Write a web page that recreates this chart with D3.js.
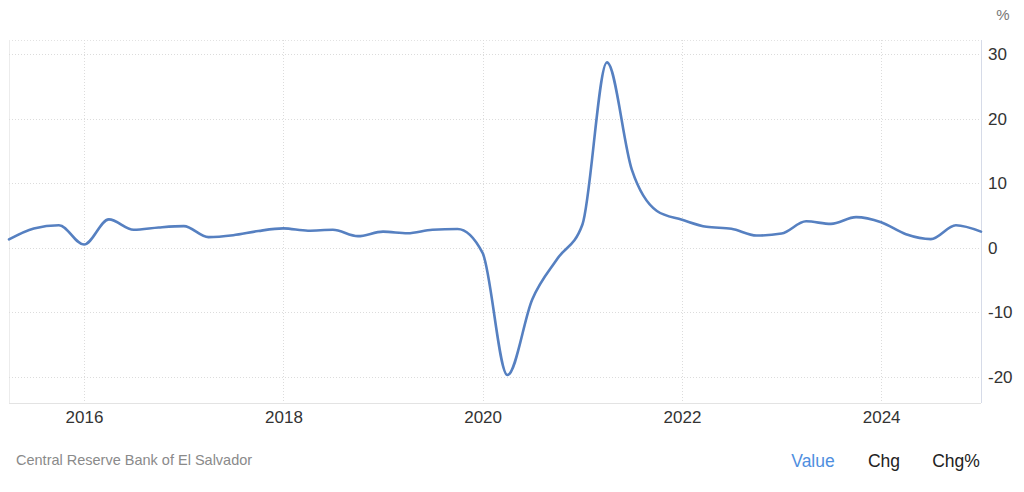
<!DOCTYPE html>
<html>
<head>
<meta charset="utf-8">
<script src="https://cdn.jsdelivr.net/npm/d3@7"></script>
<style>
  html, body { margin: 0; padding: 0; background: #fff; }
  svg { display: block; font-family: "Liberation Sans", Arial, Helvetica, sans-serif; }
</style>
</head>
<body>
<svg id="chart" width="1024" height="492"></svg>
<script>
// Quarterly GDP annual growth rate, El Salvador (quarter-start dates)
const dates = [
  "2015-04-01","2015-07-01","2015-10-01",
  "2016-01-01","2016-04-01","2016-07-01","2016-10-01",
  "2017-01-01","2017-04-01","2017-07-01","2017-10-01",
  "2018-01-01","2018-04-01","2018-07-01","2018-10-01",
  "2019-01-01","2019-04-01","2019-07-01","2019-10-01",
  "2020-01-01","2020-04-01","2020-07-01","2020-10-01",
  "2021-01-01","2021-04-01","2021-07-01","2021-10-01",
  "2022-01-01","2022-04-01","2022-07-01","2022-10-01",
  "2023-01-01","2023-04-01","2023-07-01","2023-10-01",
  "2024-01-01","2024-04-01","2024-07-01","2024-10-01",
  "2025-01-01"
];
const values = [
  1.3, 3.0, 3.5,
  0.5, 4.4, 2.8, 3.15,
  3.35, 1.65, 1.95, 2.6,
  3.0, 2.65, 2.8, 1.8,
  2.5, 2.25, 2.8, 2.9,
  -0.8, -19.7, -8.0, -1.7,
  3.6, 28.7, 12.1, 5.7,
  4.35, 3.25, 2.95, 1.9,
  2.2, 4.1, 3.7, 4.75,
  3.95, 2.1, 1.35, 3.5,
  2.5
];
const yTicks = [-20, -10, 0, 10, 20, 30];
const xTickYears = [2016, 2018, 2020, 2022, 2024];
const sourceText = "Central Reserve Bank of El Salvador";
const legendItems = ["Value", "Chg", "Chg%"];
const unitLabel = "%";

const parse = d3.timeParse("%Y-%m-%d");
const data = dates.map((d, i) => ({ date: parse(d), value: values[i] }));

const svg = d3.select("#chart");
const plotLeft = 9, plotRight = 981, plotTop = 40, plotBottom = 403;

const x = d3.scaleTime()
  .domain(d3.extent(data, d => d.date))
  .range([plotLeft, plotRight]);
const y = d3.scaleLinear()
  .domain([-20, 30])
  .range([377, 54]);

// plot frame (light)
svg.append("line")
  .attr("x1", plotLeft).attr("x2", plotRight)
  .attr("y1", plotTop + 0.5).attr("y2", plotTop + 0.5)
  .attr("stroke", "#e2e2e2").attr("stroke-dasharray", "1,2");
svg.append("line")
  .attr("x1", plotLeft + 0.5).attr("x2", plotLeft + 0.5)
  .attr("y1", plotTop).attr("y2", plotBottom)
  .attr("stroke", "#ececec");

// horizontal gridlines
svg.append("g").selectAll("line").data(yTicks).join("line")
  .attr("x1", plotLeft).attr("x2", plotRight)
  .attr("y1", d => Math.round(y(d)) + 0.5).attr("y2", d => Math.round(y(d)) + 0.5)
  .attr("stroke", "#dcdcdc").attr("stroke-dasharray", "1,2");

// vertical gridlines
const xTickDates = xTickYears.map(yr => new Date(yr, 0, 1));
svg.append("g").selectAll("line").data(xTickDates).join("line")
  .attr("x1", d => Math.round(x(d)) + 0.5).attr("x2", d => Math.round(x(d)) + 0.5)
  .attr("y1", plotTop).attr("y2", plotBottom)
  .attr("stroke", "#dcdcdc").attr("stroke-dasharray", "1,2");

// bottom axis line
svg.append("line")
  .attr("x1", plotLeft).attr("x2", plotRight)
  .attr("y1", plotBottom + 0.5).attr("y2", plotBottom + 0.5)
  .attr("stroke", "#e3e3e3");

// right axis line
svg.append("line")
  .attr("x1", plotRight + 0.5).attr("x2", plotRight + 0.5)
  .attr("y1", plotTop).attr("y2", plotBottom)
  .attr("stroke", "#d6dbe8");

// y axis labels via axis generator
const yAxis = d3.axisRight(y).tickValues(yTicks).tickSize(0).tickPadding(7).tickFormat(d => String(d));
const gy = svg.append("g").attr("transform", `translate(${plotRight},0)`).call(yAxis);
gy.select(".domain").remove();
gy.selectAll("text")
  .attr("fill", "#333").attr("font-size", 17)
  .attr("font-family", "'Liberation Sans', Arial, sans-serif");

// x axis labels
const xAxis = d3.axisBottom(x).tickValues(xTickDates).tickSize(0).tickPadding(8).tickFormat(d3.timeFormat("%Y"));
const gx = svg.append("g").attr("transform", `translate(0,${plotBottom})`).call(xAxis);
gx.select(".domain").remove();
gx.selectAll("text")
  .attr("fill", "#333").attr("font-size", 17)
  .attr("font-family", "'Liberation Sans', Arial, sans-serif");

// unit label
svg.append("text")
  .attr("x", 1003).attr("y", 20)
  .attr("text-anchor", "middle")
  .attr("fill", "#777").attr("font-size", 15)
  .text(unitLabel);

// the series line
const line = d3.line()
  .x(d => x(d.date))
  .y(d => y(d.value))
  .curve(d3.curveMonotoneX);
svg.append("path")
  .datum(data)
  .attr("fill", "none")
  .attr("stroke", "#5680c1")
  .attr("stroke-width", 2.6)
  .attr("stroke-linejoin", "round")
  .attr("stroke-linecap", "round")
  .attr("d", line);

// source text
svg.append("text")
  .attr("x", 16).attr("y", 465)
  .attr("fill", "#8a8a8a").attr("font-size", 14.5)
  .text(sourceText);

// legend-like buttons
const legendX = [813, 884, 956];
svg.append("g").selectAll("text").data(legendItems).join("text")
  .attr("x", (d, i) => legendX[i]).attr("y", 467)
  .attr("text-anchor", "middle")
  .attr("font-size", 17.5)
  .attr("fill", (d, i) => i === 0 ? "#4f8fe0" : "#222")
  .text(d => d);
</script>
</body>
</html>
